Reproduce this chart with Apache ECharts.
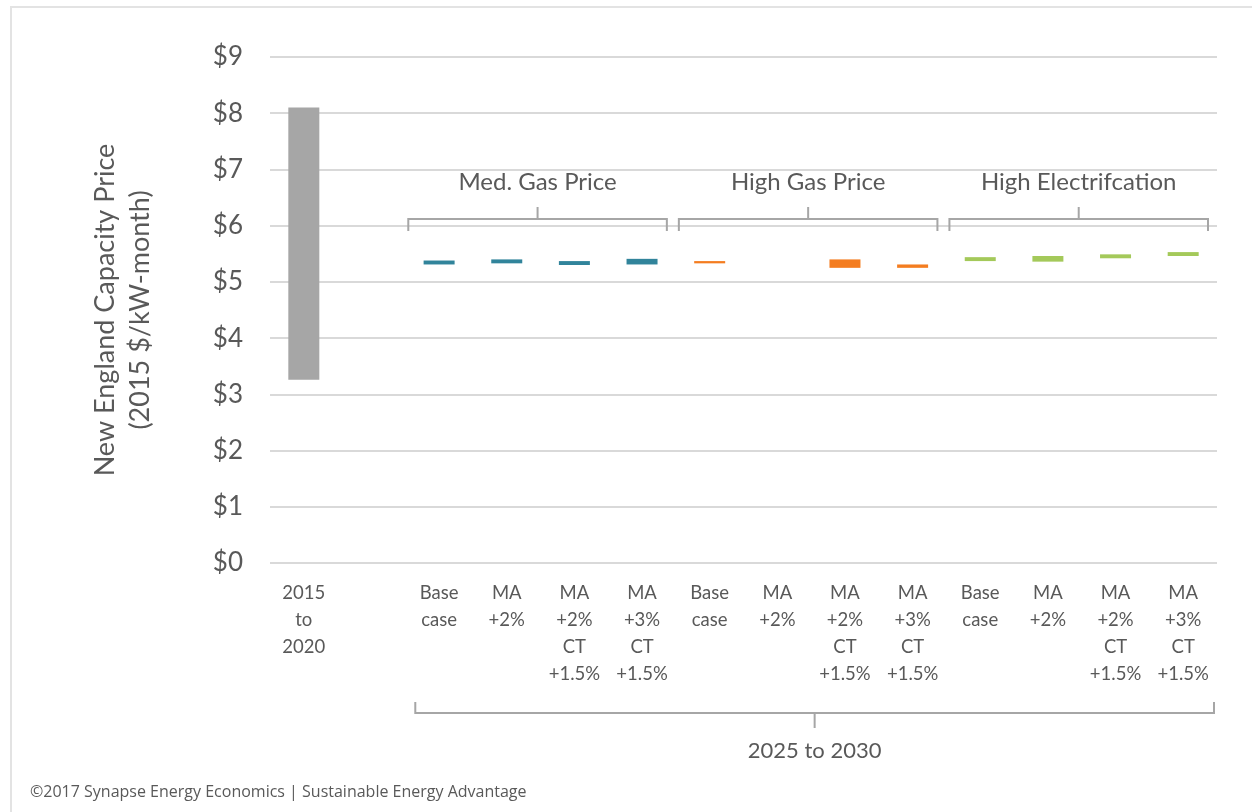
<!DOCTYPE html>
<html>
<head>
<meta charset="utf-8">
<script src="https://cdn.jsdelivr.net/npm/echarts@6/dist/echarts.min.js"></script>
<style>html,body{margin:0;padding:0;background:#fff;}#c{width:1252px;height:812px;}</style>
</head>
<body>
<div id="c"></div>
<script>
var categories = ["2015\nto\n2020", "",
  "Base\ncase", "MA\n+2%", "MA\n+2%\nCT\n+1.5%", "MA\n+3%\nCT\n+1.5%",
  "Base\ncase", "MA\n+2%", "MA\n+2%\nCT\n+1.5%", "MA\n+3%\nCT\n+1.5%",
  "Base\ncase", "MA\n+2%", "MA\n+2%\nCT\n+1.5%", "MA\n+3%\nCT\n+1.5%"];
var lowValues  = [3.26, null, 5.31, 5.33, 5.30, 5.31, 5.33, null, 5.25, 5.25, 5.37, 5.36, 5.42, 5.46];
var highValues = [8.10, null, 5.38, 5.40, 5.37, 5.41, 5.37, null, 5.40, 5.31, 5.44, 5.46, 5.49, 5.53];
var groupLabels = ["Med. Gas Price", "High Gas Price", "High Electrifcation"];
var groupStart = [2, 6, 10];
var periodLabel = "2025 to 2030";
var yTicks = ["$0","$1","$2","$3","$4","$5","$6","$7","$8","$9"];
var yTitle = "New England Capacity Price\n(2015 $/kW-month)";
var sourceNote = "\u00a92017 Synapse Energy Economics | Sustainable Energy Advantage";

var barColors = ["#a6a6a6", "#a6a6a6",
  "#31849b", "#31849b", "#31849b", "#31849b",
  "#f47d20", "#f47d20", "#f47d20", "#f47d20",
  "#a4c95a", "#a4c95a", "#a4c95a", "#a4c95a"];

var rangeData = highValues.map(function (h, i) {
  if (h == null || lowValues[i] == null) return null;
  return { value: +(h - lowValues[i]).toFixed(3), itemStyle: { color: barColors[i] } };
});

var textColor = "#595959";
var font = "Lato";

var chart = echarts.init(document.getElementById('c'), null, { renderer: 'canvas' });
var option = {
  animation: false,
  backgroundColor: '#fff',
  grid: { left: 270, right: 35, top: 57, bottom: 249, containLabel: false },
  xAxis: {
    type: 'category',
    data: categories,
    axisLine: { show: false },
    axisTick: { show: false },
    axisLabel: { interval: 0, color: textColor, fontFamily: font, fontSize: 18.5, lineHeight: 27, margin: 17, verticalAlign: 'top' }
  },
  yAxis: {
    type: 'value',
    min: 0, max: 9, interval: 1,
    axisLine: { show: false },
    axisTick: { show: false },
    splitLine: { lineStyle: { color: '#d9d9d9', width: 2 } },
    axisLabel: {
      color: textColor, fontFamily: font, fontSize: 26, margin: 27,
      formatter: function (v) { return yTicks[Math.round(v)]; }
    },
    name: yTitle,
    nameLocation: 'middle',
    nameGap: 112,
    nameRotate: 90,
    nameTextStyle: { color: textColor, fontFamily: font, fontSize: 27, lineHeight: 35 }
  },
  series: [
    {
      type: 'bar', stack: 'r', barWidth: 31, silent: true,
      itemStyle: { color: 'transparent' },
      data: lowValues
    },
    {
      type: 'bar', stack: 'r', barWidth: 31,
      data: rangeData
    }
  ]
};
chart.setOption(option);

function drawOverlay() {
  var p0 = chart.convertToPixel({ xAxisIndex: 0 }, 0);
  var p1 = chart.convertToPixel({ xAxisIndex: 0 }, 1);
  var band = p1 - p0;
  var els = [];
  var lineStyle = { stroke: '#a6a6a6', lineWidth: 2, fill: null };
  groupStart.forEach(function (s, gi) {
    var cx0 = chart.convertToPixel({ xAxisIndex: 0 }, s);
    var cx1 = chart.convertToPixel({ xAxisIndex: 0 }, s + 3);
    var x1 = cx0 - band / 2 + 3, x2 = cx1 + band / 2 - 9;
    var yLine = 219, yEnd = 231, yTick = 207;
    els.push({ type: 'polyline', shape: { points: [[x1, yEnd], [x1, yLine], [x2, yLine], [x2, yEnd]] }, style: lineStyle, z: 10 });
    var mid = (x1 + x2) / 2;
    els.push({ type: 'line', shape: { x1: mid, y1: yLine, x2: mid, y2: yTick }, style: lineStyle, z: 10 });
    els.push({ type: 'text', x: mid, y: 182, style: { text: groupLabels[gi], fill: textColor, font: '24px ' + font, align: 'center', verticalAlign: 'middle' }, z: 10 });
  });
  var bx0 = chart.convertToPixel({ xAxisIndex: 0 }, groupStart[0]) - band / 2 + 10;
  var bx1 = chart.convertToPixel({ xAxisIndex: 0 }, categories.length - 1) + band / 2 - 3;
  var yb = 713;
  els.push({ type: 'polyline', shape: { points: [[bx0, 702], [bx0, yb], [bx1, yb], [bx1, 702]] }, style: lineStyle, z: 10 });
  var bm = (bx0 + bx1) / 2;
  els.push({ type: 'line', shape: { x1: bm, y1: yb, x2: bm, y2: 728 }, style: lineStyle, z: 10 });
  els.push({ type: 'text', x: bm, y: 751, style: { text: periodLabel, fill: textColor, font: '22px ' + font, align: 'center', verticalAlign: 'middle' }, z: 10 });
  els.push({ type: 'text', x: 30, y: 792, style: { text: sourceNote, fill: '#595959', font: '16px "Liberation Sans Narrow", "Open Sans"', align: 'left', verticalAlign: 'middle' }, z: 10 });
  els.push({ type: 'rect', shape: { x: 11, y: 7, width: 1260, height: 830 }, style: { stroke: '#e3e3e3', lineWidth: 2, fill: null }, z: 0 });
  chart.setOption({ graphic: { elements: els } });
}
drawOverlay();
</script>
</body>
</html>
